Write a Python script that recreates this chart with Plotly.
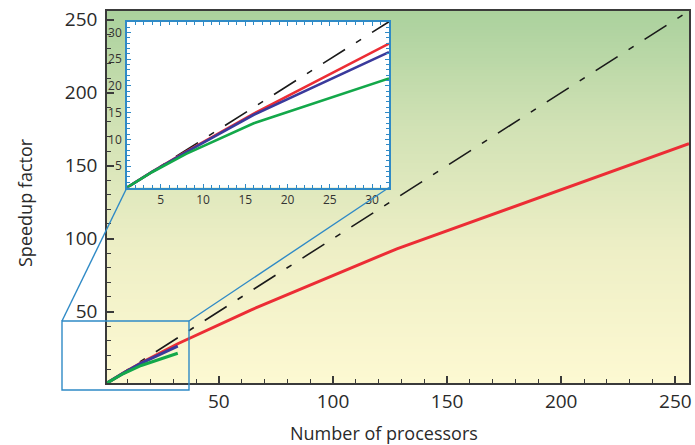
import plotly.graph_objects as go
import numpy as np

# ---------------- data ----------------
procs_full = [1, 2, 4, 8, 16, 32, 64, 128, 256]
ideal_full = [1, 2, 4, 8, 16, 32, 64, 128, 256]
red_speedup = [1, 2, 3.95, 7.7, 14.8, 27.9, 51, 93, 165]

procs_small = [1, 2, 4, 8, 16, 32]
blue_speedup = [1, 2, 3.95, 7.6, 14.6, 26.3]
green_speedup = [1, 1.95, 3.9, 7.3, 13.0, 21.4]

main_ticks = [50, 100, 150, 200, 250]
inset_ticks = [5, 10, 15, 20, 25, 30]

x_title = "Number of processors"
y_title = "Speedup factor"

RED = "#ec2d35"
BLUE = "#3a3a9c"
GREEN = "#13a84a"
BLACK = "#1a1a1a"
FRAME_BLUE = "#2f8ac6"
AX = "#3a3a3a"
FONT = "Open Sans"

W, H = 695, 445
L, R, T, B = 107, 6, 11, 62
XR = [1, 256]
YR = [1, 256]

fig = go.Figure()

# gradient background for main plot (styling)
n_bands = 120
edges = list(np.linspace(YR[0], YR[1], n_bands + 1))
centers = [(edges[i] + edges[i + 1]) / 2 for i in range(n_bands)]
fig.add_trace(go.Heatmap(
    x=XR, y=edges, z=[[c] for c in centers],
    zmin=YR[0], zmax=YR[1],
    colorscale=[[0, "rgb(253,249,210)"], [0.35, "rgb(238,239,198)"],
                [0.7, "rgb(208,225,180)"], [1, "rgb(170,209,157)"]],
    showscale=False, hoverinfo="skip", xaxis="x", yaxis="y"))

dash = "26px,13px,6px,13px"

# main traces
fig.add_trace(go.Scatter(x=procs_full, y=ideal_full, mode="lines",
                         line=dict(color=BLACK, width=1.6, dash=dash), xaxis="x", yaxis="y"))
fig.add_trace(go.Scatter(x=procs_full, y=red_speedup, mode="lines",
                         line=dict(color=RED, width=3), xaxis="x", yaxis="y"))
fig.add_trace(go.Scatter(x=procs_small, y=blue_speedup, mode="lines",
                         line=dict(color=BLUE, width=3), xaxis="x", yaxis="y"))
fig.add_trace(go.Scatter(x=procs_small, y=green_speedup, mode="lines",
                         line=dict(color=GREEN, width=3), xaxis="x", yaxis="y"))

# inset traces
fig.add_trace(go.Scatter(x=procs_small, y=procs_small, mode="lines",
                         line=dict(color=BLACK, width=1.6, dash=dash), xaxis="x2", yaxis="y2"))
fig.add_trace(go.Scatter(x=procs_full[:6], y=red_speedup[:6], mode="lines",
                         line=dict(color=RED, width=2.6), xaxis="x2", yaxis="y2"))
fig.add_trace(go.Scatter(x=procs_small, y=blue_speedup, mode="lines",
                         line=dict(color=BLUE, width=2.6), xaxis="x2", yaxis="y2"))
fig.add_trace(go.Scatter(x=procs_small, y=green_speedup, mode="lines",
                         line=dict(color=GREEN, width=2.6), xaxis="x2", yaxis="y2"))

pw = W - L - R
ph = H - T - B
def px2paper_x(px):
    return (px - L) / pw
def px2paper_y(py):
    return (H - B - py) / ph

inset_x = [px2paper_x(127), px2paper_x(389)]
inset_y = [px2paper_y(187.5), px2paper_y(21.7)]

# zoom box & connectors (paper coords)
bx0, bx1 = px2paper_x(62), px2paper_x(189)
by0, by1 = px2paper_y(390), px2paper_y(321)
shapes = [
    dict(type="rect", xref="paper", yref="paper", x0=bx0, x1=bx1, y0=by0, y1=by1,
         line=dict(color=FRAME_BLUE, width=1.4), layer="above"),
    dict(type="line", xref="paper", yref="paper", x0=bx0, y0=by1, x1=inset_x[0], y1=inset_y[0],
         line=dict(color=FRAME_BLUE, width=1.4), layer="above"),
    dict(type="line", xref="paper", yref="paper", x0=bx1, y0=by1, x1=inset_x[1], y1=inset_y[0],
         line=dict(color=FRAME_BLUE, width=1.4), layer="above"),
]

annotations = [
    dict(text=x_title, xref="paper", yref="paper", x=px2paper_x(384), y=px2paper_y(433),
         xanchor="center", yanchor="middle", showarrow=False, font=dict(size=18, color="#2a2a2a")),
    dict(text=y_title, xref="paper", yref="paper", x=px2paper_x(25), y=px2paper_y(203),
         xanchor="center", yanchor="middle", showarrow=False, textangle=-90,
         font=dict(size=18, color="#2a2a2a")),
]

fig.update_layout(
    width=W, height=H,
    margin=dict(l=L, r=R, t=T, b=B),
    paper_bgcolor="white", plot_bgcolor="white",
    showlegend=False,
    font=dict(family=FONT, color="#2a2a2a"),
    shapes=shapes,
    annotations=annotations,
    xaxis=dict(range=XR, domain=[0, 1], anchor="y", tickvals=main_ticks,
               ticks="inside", ticklen=7, tickwidth=1.5, tickcolor=AX,
               minor=dict(dtick=10, ticks="inside", ticklen=4, tickwidth=1.2, tickcolor=AX),
               showline=True, linecolor=AX, linewidth=1.6, mirror=True, automargin=False,
               showgrid=False, zeroline=False, tickfont=dict(size=19)),
    yaxis=dict(range=YR, domain=[0, 1], anchor="x", tickvals=main_ticks,
               ticks="inside", ticklen=7, tickwidth=1.5, tickcolor=AX,
               minor=dict(dtick=10, ticks="inside", ticklen=4, tickwidth=1.2, tickcolor=AX),
               showline=True, linecolor=AX, linewidth=1.6, mirror=True, automargin=False,
               showgrid=False, zeroline=False, tickfont=dict(size=19), ticklabelstandoff=4),
    xaxis2=dict(range=[1, 32], domain=inset_x, anchor="y2", tickvals=inset_ticks,
                ticks="inside", ticklen=4, tickwidth=1.2, tickcolor=FRAME_BLUE,
                minor=dict(dtick=1, ticks="inside", ticklen=3, tickwidth=1, tickcolor=FRAME_BLUE),
                showline=True, linecolor=FRAME_BLUE, linewidth=1.6, mirror="allticks",
                showgrid=False, zeroline=False, ticklabelstandoff=0, automargin=False,
                tickfont=dict(size=12, color="#333")),
    yaxis2=dict(range=[1, 32], domain=inset_y, anchor="x2", tickvals=inset_ticks,
                ticks="inside", ticklen=4, tickwidth=1.2, tickcolor=FRAME_BLUE,
                minor=dict(dtick=1, ticks="inside", ticklen=3, tickwidth=1, tickcolor=FRAME_BLUE),
                showline=True, linecolor=FRAME_BLUE, linewidth=1.6, mirror="allticks",
                showgrid=False, zeroline=False, ticklabelstandoff=1, automargin=False,
                tickfont=dict(size=12, color="#333")),
)

fig.write_html("out.html")
